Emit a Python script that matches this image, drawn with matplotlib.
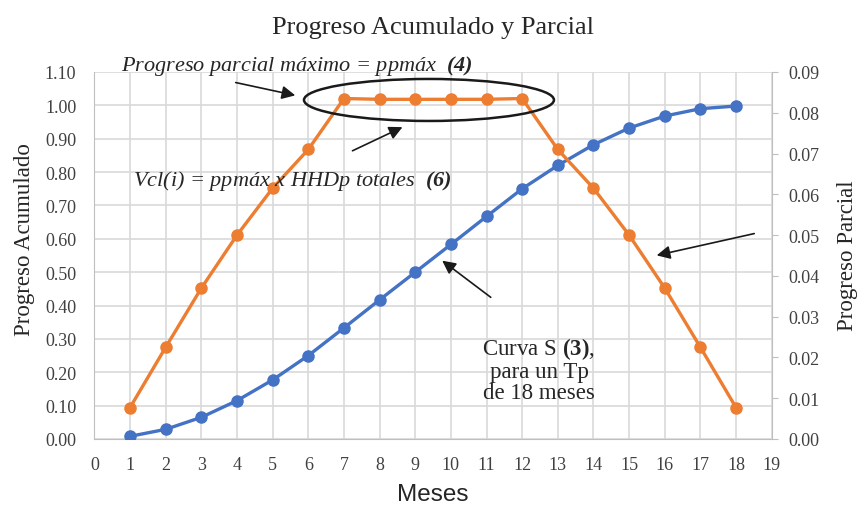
import matplotlib
matplotlib.use("Agg")
import matplotlib.pyplot as plt
from matplotlib.patches import Ellipse

meses = list(range(1, 19))
acumulado = [0.008, 0.029, 0.065, 0.115, 0.177, 0.250, 0.333, 0.417, 0.500,
             0.583, 0.667, 0.750, 0.820, 0.882, 0.932, 0.968, 0.990, 0.998]
parcial = [0.0077, 0.0225, 0.0370, 0.0500, 0.0615, 0.0710, 0.0835, 0.0833, 0.0833,
           0.0833, 0.0833, 0.0835, 0.0710, 0.0615, 0.0500, 0.0370, 0.0225, 0.0077]
x_ticks = list(range(0, 20))
y_left_ticks = [i / 10 for i in range(0, 12)]
y_right_ticks = [i / 100 for i in range(0, 10)]

plt.rcParams['mathtext.fontset'] = 'custom'
plt.rcParams['mathtext.rm'] = 'Liberation Serif'
plt.rcParams['mathtext.bf'] = 'Liberation Serif:bold:italic'
plt.rcParams['mathtext.sf'] = 'Liberation Serif:bold'

serif = 'Liberation Serif'
blue = '#4472C4'
orange = '#ED7D31'
grid_c = '#D9D9D9'
tick_c = '#404040'
text_c = '#262626'

W, H = 861, 506
fig = plt.figure(figsize=(W / 100, H / 100), dpi=100)
ax = fig.add_axes([94.4 / W, 66 / H, 677.3 / W, 367 / H])
ax2 = ax.twinx()

ax.set_xlim(0, 19)
ax.set_ylim(0, 1.10)
ax2.set_ylim(0, 0.09)
ax.set_xticks(x_ticks)
ax.set_yticks(y_left_ticks)
ax2.set_yticks(y_right_ticks)
ax.set_yticklabels([f"{v:.2f}" for v in y_left_ticks], fontfamily=serif, fontsize=13, color=tick_c)
ax2.set_yticklabels([f"{v:.2f}" for v in y_right_ticks], fontfamily=serif, fontsize=13, color=tick_c)
ax.set_xticklabels([str(v) for v in x_ticks], fontfamily=serif, fontsize=13, color=tick_c)

ax.grid(True, color=grid_c, linewidth=1.2)
ax.set_axisbelow(True)
ax.tick_params(axis='x', length=0, pad=12)
ax.tick_params(axis='y', length=0, pad=13)
ax2.tick_params(axis='y', length=4, color='#BFBFBF', pad=8)
for a in (ax, ax2):
    for s in a.spines.values():
        s.set_visible(False)
ax.spines['left'].set_visible(True)
ax.spines['left'].set_color('#BFBFBF')
ax.spines['bottom'].set_visible(True)
ax.spines['bottom'].set_color('#BFBFBF')
ax2.spines['right'].set_visible(True)
ax2.spines['right'].set_color('#BFBFBF')

ax.plot(meses, acumulado, color=blue, linewidth=2.4, marker='o', markersize=8, zorder=3)
ax2.plot(meses, parcial, color=orange, linewidth=2.4, marker='o', markersize=8, zorder=3)

fig.text(433 / W, 1 - 495 / H, "Meses", fontfamily='Liberation Sans', fontsize=17.5,
         color=text_c, ha='center', va='center')
fig.text(25 / W, 1 - 240 / H, "Progreso Acumulado", fontfamily=serif, fontsize=16.5,
         color=text_c, ha='center', va='center', rotation=90)
fig.text(848 / W, 1 - 256 / H, "Progreso Parcial", fontfamily=serif, fontsize=16.5,
         color=text_c, ha='center', va='center', rotation=90)
fig.text(433 / W, 1 - 28 / H, "Progreso Acumulado y Parcial", fontfamily=serif,
         fontsize=19, color=text_c, ha='center', va='center')


def px2d(px, py):
    return ((px - 94.4) / 35.65, (440 - py) / 333.6 * 0.09 / 1.10)


ax2.text(*px2d(121, 66), r"Progreso parcial máximo = ppmáx  $\mathbf{(4)}$",
         fontfamily=serif, style='italic', fontsize=16, va='center', ha='left',
         clip_on=False, color=text_c)
ax2.text(*px2d(133, 181), r"Vcl(i) = ppmáx x HHDp totales  $\mathbf{(6)}$",
         fontfamily=serif, style='italic', fontsize=16, va='center', ha='left',
         color=text_c)
ax2.text(*px2d(539, 370), "Curva S $\\mathsf{(3)}$,\npara un Tp\nde 18 meses",
         fontfamily=serif, fontsize=16.5, va='center', ha='center', linespacing=1.0,
         color=text_c)

arrow = dict(arrowstyle='-|>', color='#1a1a1a', lw=1.2, mutation_scale=20)
for tail, tip in [((233, 83), (298, 97)), ((350, 153), (405, 127)),
                  ((493, 300), (440, 260)), ((757, 234), (654, 257))]:
    ax2.annotate("", xy=px2d(*tip), xytext=px2d(*tail), arrowprops=arrow,
                 annotation_clip=False)

cx, cy = px2d(429, 101)
ell = Ellipse((cx, cy), width=250 / 35.65, height=42 / 333.6 * 0.09 / 1.10,
              fill=False, edgecolor='#1a1a1a', linewidth=1.8, zorder=4)
ax2.add_patch(ell)

fig.savefig("out.png", dpi=100)
